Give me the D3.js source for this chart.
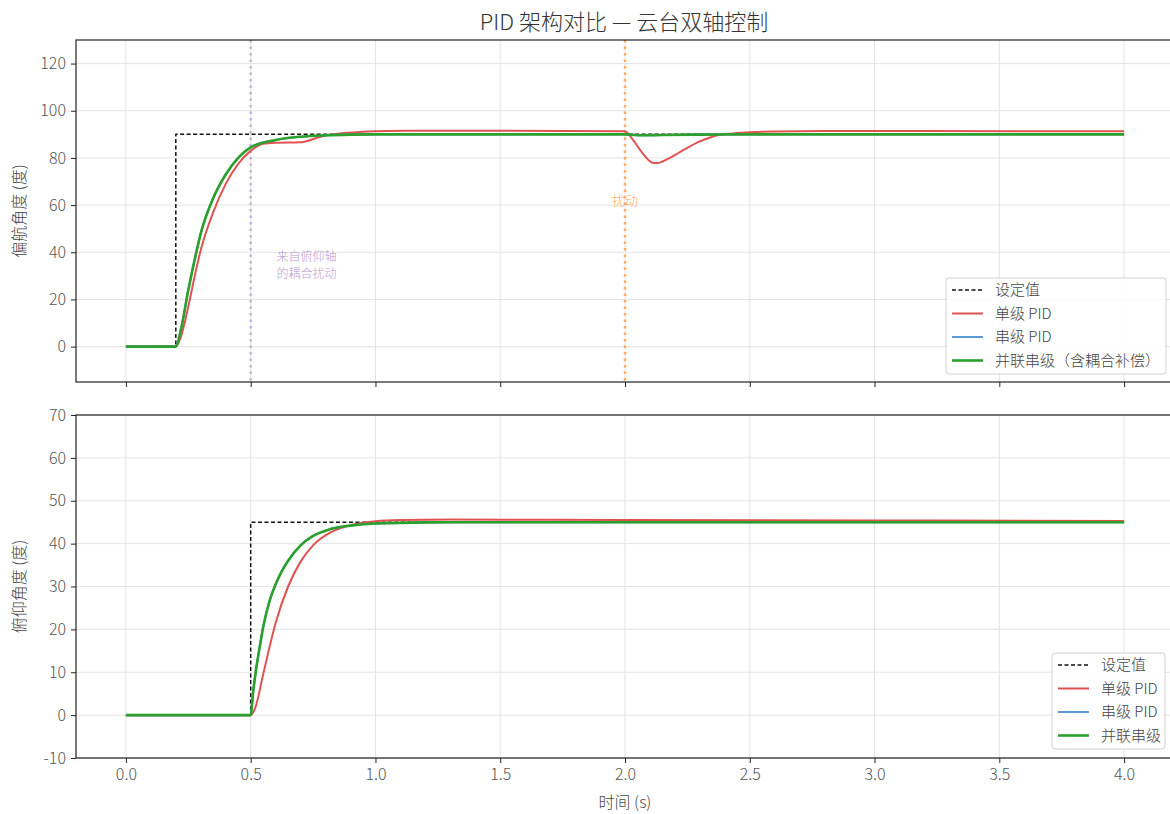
<!DOCTYPE html>
<html>
<head>
<meta charset="utf-8">
<script src="https://cdn.jsdelivr.net/npm/d3@7"></script>
<style>
  body { margin: 0; background: #fff; }
  svg, svg text { font-family: "Noto Sans CJK SC", "Noto Sans", sans-serif; }
</style>
</head>
<body>
<svg id="chart" width="1170" height="814"></svg>
<script>
// ---- data ----
const title = "PID 架构对比 — 云台双轴控制";
const xTicks = [0.0, 0.5, 1.0, 1.5, 2.0, 2.5, 3.0, 3.5, 4.0];
const yawTicks = [0, 20, 40, 60, 80, 100, 120];
const pitchTicks = [-10, 0, 10, 20, 30, 40, 50, 60, 70];

// yaw axis (setpoint step at 0.2 s to 90°)
const yawSetT = [0, 0.2, 0.2, 4.0];
const yawSetV = [0, 0, 90, 90];
const yawSingleT = [0, 0.2, 0.22, 0.25, 0.28, 0.3, 0.35, 0.4, 0.45, 0.5, 0.55, 0.6, 0.7, 0.72, 0.78, 0.85, 0.95, 1.05, 1.2, 1.5, 2.0, 2.03, 2.07, 2.11, 2.13, 2.17, 2.22, 2.3, 2.35, 2.42, 2.5, 2.6, 2.8, 3.2, 4.0];
const yawSingleV = [0, 0, 4, 17, 32, 41, 57, 69, 77.5, 83, 86, 86.4, 86.6, 87, 89, 90.3, 91.1, 91.4, 91.5, 91.5, 91.3, 88, 82, 78, 77.8, 79.5, 82.5, 87, 89, 90.3, 90.9, 91.2, 91.4, 91.4, 91.3];
const yawCascadeT = [0, 0.2, 0.22, 0.25, 0.28, 0.3, 0.35, 0.4, 0.45, 0.5, 0.6, 0.7, 0.8, 0.9, 1.0, 1.5, 2.0, 2.05, 2.15, 2.3, 2.5, 4.0];
const yawCascadeV = [0, 0, 7, 24, 39, 48, 63, 73, 80, 84.5, 87.6, 89, 89.6, 89.9, 90, 90, 90, 89.6, 89.7, 89.9, 90, 90];
const yawParallelT = [0, 0.2, 0.22, 0.25, 0.28, 0.3, 0.35, 0.4, 0.45, 0.5, 0.6, 0.7, 0.8, 0.9, 1.0, 1.5, 2.0, 2.05, 2.15, 2.3, 2.5, 4.0];
const yawParallelV = [0, 0, 7, 24, 39, 48, 63, 73, 80, 84.5, 87.6, 89, 89.6, 89.9, 90, 90, 90, 89.6, 89.7, 89.9, 90, 90];

// pitch axis (setpoint step at 0.5 s to 45°)
const pitchSetT = [0, 0.5, 0.5, 4.0];
const pitchSetV = [0, 0, 45, 45];
const pitchSingleT = [0, 0.5, 0.52, 0.55, 0.6, 0.65, 0.7, 0.75, 0.82, 0.9, 1.0, 1.1, 1.3, 2.0, 3.0, 4.0];
const pitchSingleV = [0, 0, 2, 9.5, 21.5, 30, 35.8, 39.6, 42.6, 44.3, 45.2, 45.5, 45.6, 45.5, 45.4, 45.3];
const pitchCascadeT = [0, 0.5, 0.51, 0.52, 0.535, 0.55, 0.575, 0.6, 0.625, 0.65, 0.7, 0.75, 0.82, 0.9, 1.0, 1.2, 1.5, 4.0];
const pitchCascadeV = [0, 0, 5.5, 10, 15.5, 20.5, 26.5, 30.5, 33.6, 36, 39.6, 41.8, 43.4, 44.2, 44.7, 44.95, 45, 45];
const pitchParallelT = [0, 0.5, 0.51, 0.52, 0.535, 0.55, 0.575, 0.6, 0.625, 0.65, 0.7, 0.75, 0.82, 0.9, 1.0, 1.2, 1.5, 4.0];
const pitchParallelV = [0, 0, 5.5, 10, 15.5, 20.5, 26.5, 30.5, 33.6, 36, 39.6, 41.8, 43.4, 44.2, 44.7, 44.95, 45, 45];

const seriesNames = ["设定值", "单级 PID", "串级 PID"];
const yawParallelName = "并联串级（含耦合补偿）";
const pitchParallelName = "并联串级";

// ---- layout ----
const svg = d3.select("#chart");
const FONT = '"Noto Sans CJK SC", "Noto Sans", sans-serif';
const left = 76, right = 1174;
const topPanel = { y0: 40, y1: 382 };
const botPanel = { y0: 415, y1: 758 };

const x = d3.scaleLinear().domain([-0.2, 4.2]).range([left, right]);
const yYaw = d3.scaleLinear().domain([-15, 130]).range([topPanel.y1, topPanel.y0]);
const yPitch = d3.scaleLinear().domain([-10, 70]).range([botPanel.y1, botPanel.y0]);

const colors = { set: "#111", single: "#e05252", cascade: "#5b9bd5", parallel: "#2ca02c" };
const tickColor = "#555";
const numFmt = d => String(d);
const xFmt = d3.format(".1f");

function toPts(T, V) { return T.map((t, i) => [t, V[i]]); }

function panel(y, yTicks, panelBox, showXLabels) {
  const g = svg.append("g");
  // grid
  g.append("g").selectAll("line").data(xTicks).join("line")
    .attr("x1", d => x(d)).attr("x2", d => x(d))
    .attr("y1", panelBox.y0).attr("y2", panelBox.y1)
    .attr("stroke", "#e3e3e3").attr("stroke-width", 1);
  g.append("g").selectAll("line").data(yTicks).join("line")
    .attr("x1", left).attr("x2", right)
    .attr("y1", d => y(d)).attr("y2", d => y(d))
    .attr("stroke", "#e3e3e3").attr("stroke-width", 1);

  // axes
  const xa = g.append("g").attr("transform", `translate(0,${panelBox.y1})`)
    .call(d3.axisBottom(x).tickValues(xTicks).tickSize(5).tickPadding(6)
      .tickFormat(showXLabels ? xFmt : () => ""));
  const ya = g.append("g").attr("transform", `translate(${left},0)`)
    .call(d3.axisLeft(y).tickValues(yTicks).tickSize(5).tickPadding(5).tickFormat(numFmt));
  [xa, ya].forEach(a => {
    a.attr("font-family", FONT).attr("font-size", 16);
    a.select(".domain").remove();
    a.selectAll(".tick line").attr("stroke", "#222");
    a.selectAll(".tick text").attr("fill", tickColor)
      .style("font-family", FONT).style("font-size", "16px").style("font-weight", 300);
  });
  return g;
}

function frame(panelBox) {
  svg.append("rect").attr("x", left).attr("y", panelBox.y0)
    .attr("width", right - left).attr("height", panelBox.y1 - panelBox.y0)
    .attr("fill", "none").attr("stroke", "#222").attr("stroke-width", 1.2);
}

function drawLines(g, y, sets, panelBox) {
  const clipId = "clip" + panelBox.y0;
  svg.append("clipPath").attr("id", clipId).append("rect")
    .attr("x", left).attr("y", panelBox.y0).attr("width", right - left).attr("height", panelBox.y1 - panelBox.y0);
  const lg = g.append("g").attr("clip-path", `url(#${clipId})`);
  sets.forEach(s => {
    const line = d3.line().x(d => x(d[0])).y(d => y(d[1]))
      .curve(s.step ? d3.curveLinear : d3.curveMonotoneX);
    lg.append("path").datum(s.pts).attr("d", line)
      .attr("fill", "none").attr("stroke", s.color).attr("stroke-width", s.w)
      .attr("stroke-dasharray", s.dash || null).attr("stroke-opacity", s.op || 1)
      .attr("stroke-linejoin", "round");
  });
  return lg;
}

function legend(items, x0, y0, w) {
  const g = svg.append("g");
  const rowH = 23.5;
  g.append("rect").attr("x", x0).attr("y", y0).attr("width", w).attr("height", items.length * rowH + 2)
    .attr("rx", 3).attr("fill", "#fff").attr("fill-opacity", 0.85).attr("stroke", "#d0d0d0");
  items.forEach((it, i) => {
    const cy = y0 + 12 + i * rowH;
    g.append("line").attr("x1", x0 + 6).attr("x2", x0 + 37).attr("y1", cy).attr("y2", cy)
      .attr("stroke", it.color).attr("stroke-width", it.w).attr("stroke-dasharray", it.dash || null)
      .attr("stroke-opacity", it.op || 1);
    g.append("text").attr("x", x0 + 49).attr("y", cy + 5).text(it.name)
      .attr("fill", "#444").style("font-size", "15px").style("font-weight", 300);
  });
}

// ---- title ----
svg.append("text").attr("x", (left + 1170) / 2 + 1).attr("y", 30).attr("text-anchor", "middle")
  .text(title).attr("fill", "#333").style("font-size", "22px").style("font-weight", 300);

// ---- top panel: yaw ----
const gTop = panel(yYaw, yawTicks, topPanel, false);
const yawSets = [
  { pts: toPts(yawSetT, yawSetV), color: colors.set, w: 1.5, dash: "4,2.5", step: true },
  { pts: toPts(yawSingleT, yawSingleV), color: colors.single, w: 2, op: 1 },
  { pts: toPts(yawCascadeT, yawCascadeV), color: colors.cascade, w: 2 },
  { pts: toPts(yawParallelT, yawParallelV), color: colors.parallel, w: 2.6 }
];
// disturbance markers
gTop.append("line").attr("x1", x(0.5)).attr("x2", x(0.5)).attr("y1", topPanel.y0).attr("y2", topPanel.y1)
  .attr("stroke", "#9467bd").attr("stroke-opacity", 0.45).attr("stroke-width", 2.5).attr("stroke-dasharray", "2.5,4");
gTop.append("line").attr("x1", x(2.0)).attr("x2", x(2.0)).attr("y1", topPanel.y0).attr("y2", topPanel.y1)
  .attr("stroke", "#ff7f0e").attr("stroke-opacity", 0.6).attr("stroke-width", 2.5).attr("stroke-dasharray", "2.5,4");
drawLines(gTop, yYaw, yawSets, topPanel);
// two-line annotation, drawn as separate text lines
["来自俯仰轴", "的耦合扰动"].forEach((s, i) => {
  gTop.append("text").attr("x", x(0.603)).attr("y", yYaw(36.4) + i * 17.5).text(s)
    .attr("fill", "#9467bd").attr("fill-opacity", 0.7)
    .style("font-size", "12px").style("font-weight", 300);
});
gTop.append("text").attr("x", x(2.0)).attr("y", yYaw(60)).attr("text-anchor", "middle")
  .attr("fill", "#ff7f0e").attr("fill-opacity", 0.7).style("font-size", "13px").style("font-weight", 300).text("扰动");
frame(topPanel);
svg.append("text").attr("transform", `translate(25,${(topPanel.y0 + topPanel.y1) / 2}) rotate(-90)`)
  .attr("text-anchor", "middle").text("偏航角度 (度)").attr("fill", "#444").style("font-size", "16px").style("font-weight", 300);
legend([
  { name: seriesNames[0], color: colors.set, w: 1.5, dash: "4,2.5" },
  { name: seriesNames[1], color: colors.single, w: 2 },
  { name: seriesNames[2], color: colors.cascade, w: 2 },
  { name: yawParallelName, color: colors.parallel, w: 2.6 }
], 946, 278, 220);

// ---- bottom panel: pitch ----
const gBot = panel(yPitch, pitchTicks, botPanel, true);
const pitchSets = [
  { pts: toPts(pitchSetT, pitchSetV), color: colors.set, w: 1.5, dash: "4,2.5", step: true },
  { pts: toPts(pitchSingleT, pitchSingleV), color: colors.single, w: 2 },
  { pts: toPts(pitchCascadeT, pitchCascadeV), color: colors.cascade, w: 2 },
  { pts: toPts(pitchParallelT, pitchParallelV), color: colors.parallel, w: 2.6 }
];
drawLines(gBot, yPitch, pitchSets, botPanel);
frame(botPanel);
svg.append("text").attr("transform", `translate(25,${(botPanel.y0 + botPanel.y1) / 2}) rotate(-90)`)
  .attr("text-anchor", "middle").text("俯仰角度 (度)").attr("fill", "#444").style("font-size", "16px").style("font-weight", 300);
svg.append("text").attr("x", 625).attr("y", 808).attr("text-anchor", "middle")
  .text("时间 (s)").attr("fill", "#444").style("font-size", "16px").style("font-weight", 300);
legend([
  { name: seriesNames[0], color: colors.set, w: 1.5, dash: "4,2.5" },
  { name: seriesNames[1], color: colors.single, w: 2 },
  { name: seriesNames[2], color: colors.cascade, w: 2 },
  { name: pitchParallelName, color: colors.parallel, w: 2.6 }
], 1052, 653, 113);
</script>
</body>
</html>
